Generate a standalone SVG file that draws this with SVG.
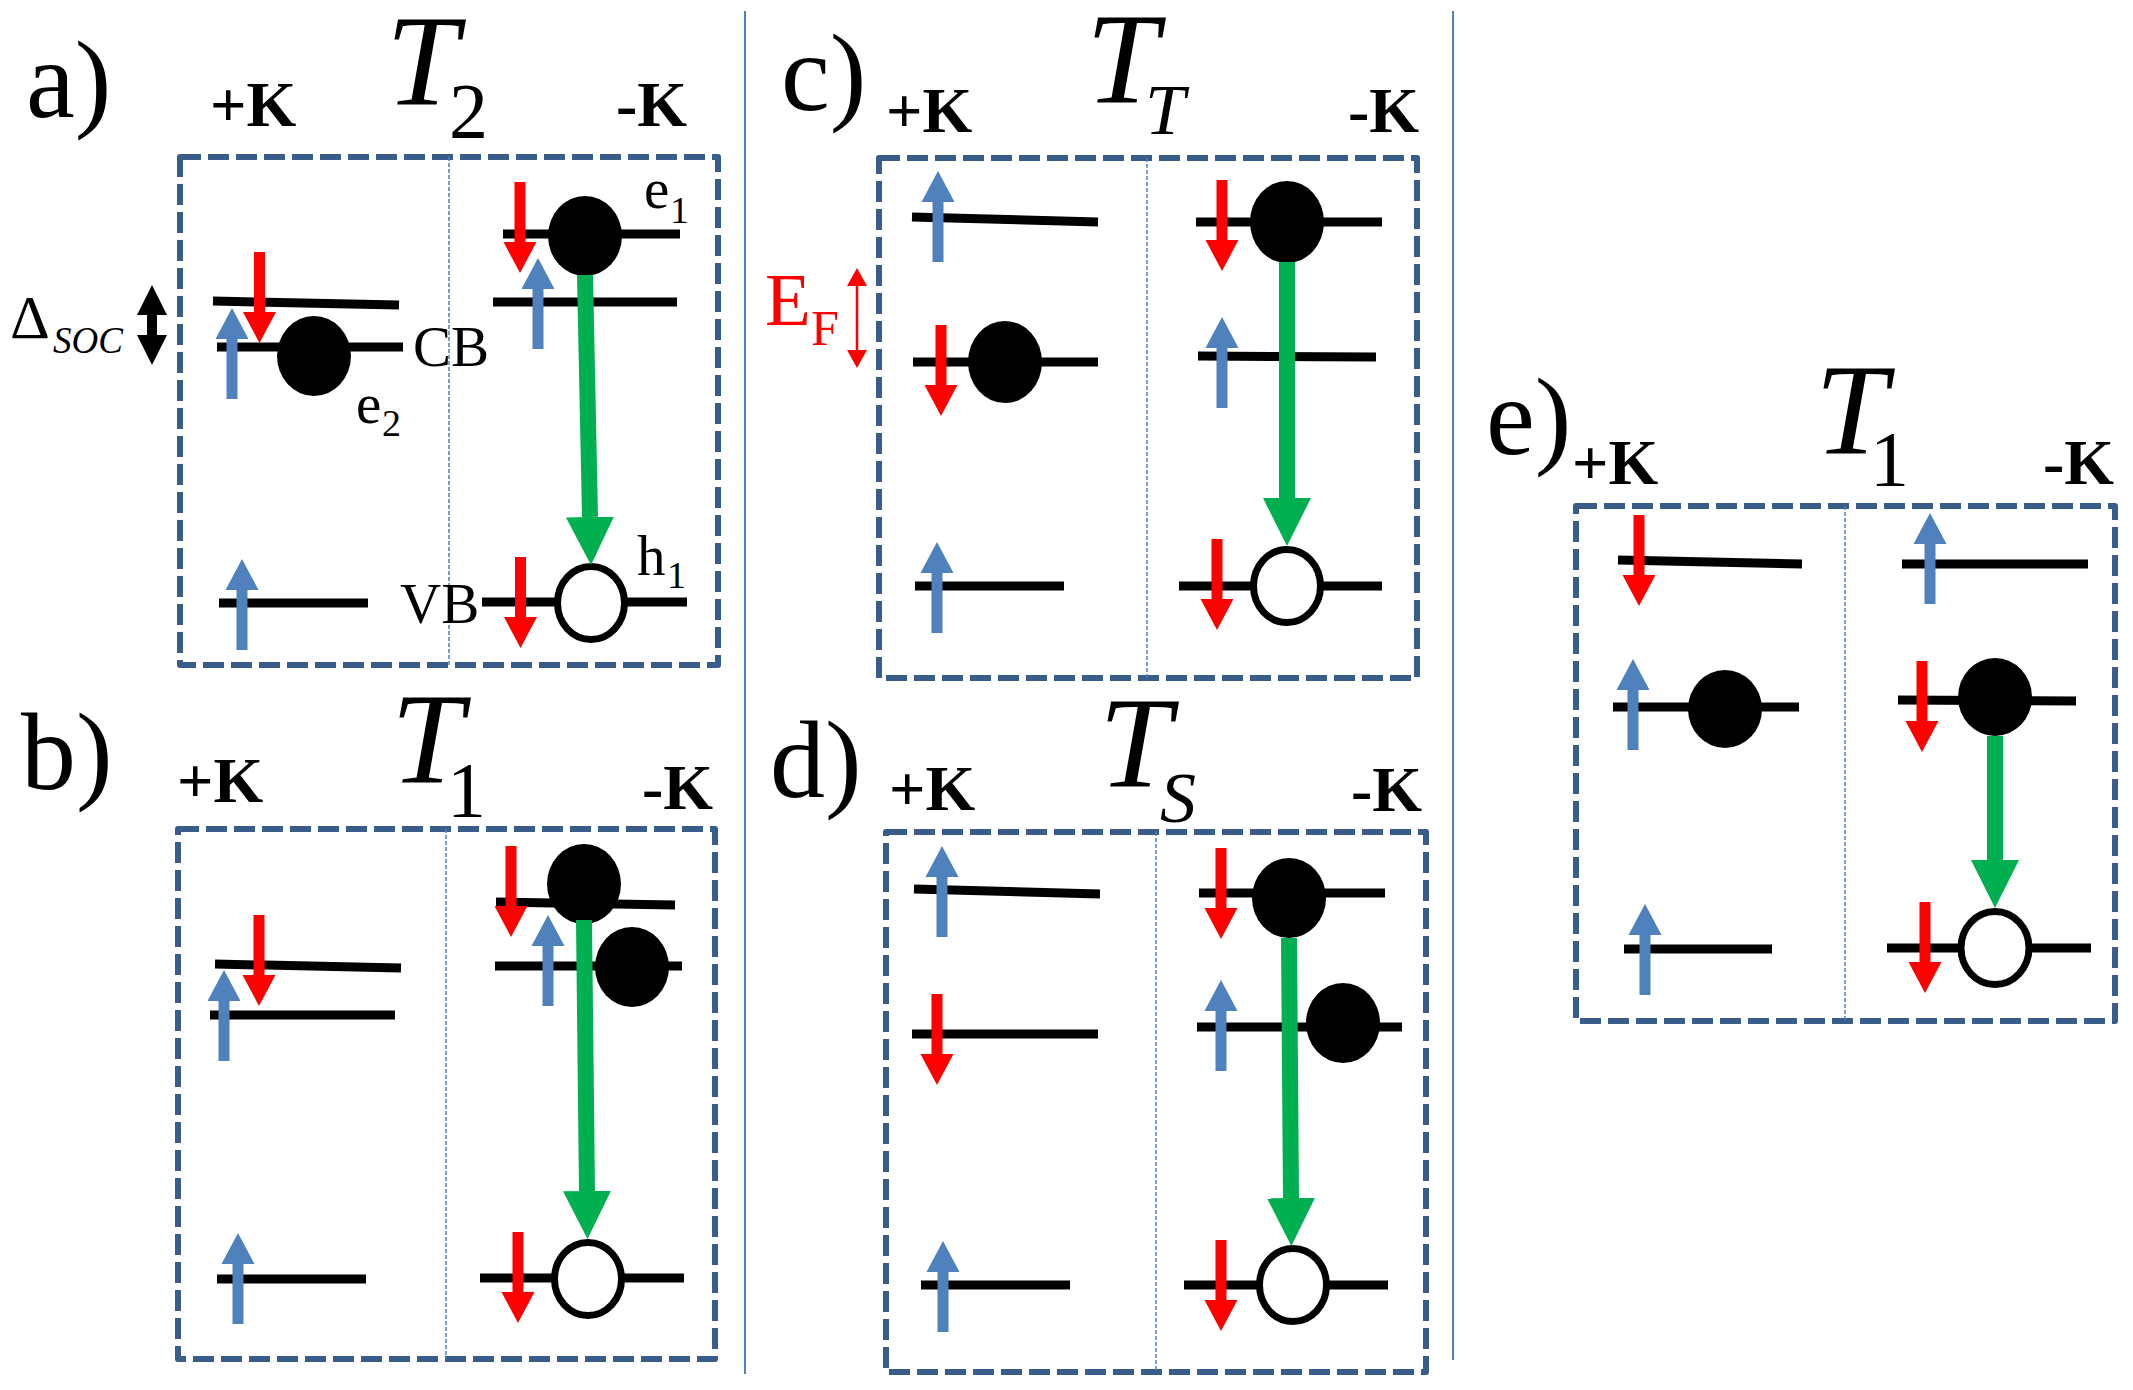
<svg xmlns="http://www.w3.org/2000/svg" xmlns:xlink="http://www.w3.org/1999/xlink" width="2133" height="1390" viewBox="0 0 2133 1390">
<style>
.bg{fill:#fff}
.box{fill:none;stroke:#385d8a;stroke-width:6;stroke-dasharray:21 7;stroke-linejoin:round}
.div{fill:none;stroke:#4f81bd;stroke-width:1.5;stroke-dasharray:4 2}
.sep{stroke:#4f81bd;stroke-width:2}
.lvl{stroke:#000;stroke-width:9;stroke-linecap:butt}
.el{fill:#000}
.ho{fill:#fff;stroke:#000;stroke-width:7}
.grn{stroke:#00b050;stroke-width:16;fill:none}
.t{font-family:"Liberation Serif","Times New Roman",serif;fill:#000}
.lab{font-size:110px}
.k{font-size:64px;font-weight:bold}
.ti{font-size:130px;font-style:italic}
.sub{font-size:78px}
.subi{font-size:72px;font-style:italic}
.sm{font-size:57px}
.sm2{font-size:38px}
.red{fill:#ff0000}
</style>
<defs>
<path id="up" d="M0,0 L16.5,31 L5.5,31 L5.5,91 L-5.5,91 L-5.5,31 L-16.5,31 Z" fill="#4f81bd"/>
<path id="dn" d="M0,0 L-16.5,-31 L-5.5,-31 L-5.5,-91 L5.5,-91 L5.5,-31 L16.5,-31 Z" fill="#ff0000"/>
<marker id="gh" viewBox="0 0 10 10" refX="0" refY="5" markerWidth="3" markerHeight="3" orient="auto" markerUnits="strokeWidth">
<path d="M0,0 L10,5 L0,10 Z" fill="#00b050"/>
</marker>
</defs>
<rect class="bg" x="0" y="0" width="2133" height="1390"/>
<g id="separators">
<line class="sep" x1="745" y1="11" x2="745" y2="1374"/>
<line class="sep" x1="1453" y1="11" x2="1453" y2="1360"/>
</g>

<g id="panel-a">
<text class="t lab" x="26" y="117">a)</text>
<text class="t k" x="210" y="126">+K</text>
<text class="t k" x="616" y="126">-K</text>
<text class="t ti" x="386" y="104">T</text>
<text class="t sub" x="449" y="137">2</text>
<rect class="box" x="180" y="157" width="538" height="508"/>
<line class="div" x1="449" y1="157" x2="449" y2="665"/>
<text class="t" x="10" y="338" font-size="62">Δ</text>
<text class="t" x="53" y="353" font-size="37" font-style="italic">SOC</text>
<path d="M152,285 L167,315 L157,315 L157,335 L167,335 L152,365 L137,335 L147,335 L147,315 L137,315 Z" fill="#000"/>
<line class="lvl" x1="213" y1="301" x2="399" y2="305"/>
<line class="lvl" x1="217" y1="347" x2="403" y2="347"/>
<line class="lvl" x1="219" y1="603" x2="368" y2="603"/>
<ellipse class="el" cx="314" cy="356" rx="37" ry="40"/>
<use xlink:href="#up" x="232" y="308"/>
<use xlink:href="#dn" x="259.5" y="343"/>
<use xlink:href="#up" x="242" y="559"/>
<text class="t sm" x="413" y="366">CB</text>
<text class="t sm" x="356" y="423">e</text>
<text class="t sm2" x="382" y="436">2</text>
<line class="lvl" x1="503" y1="234" x2="680" y2="234"/>
<line class="lvl" x1="493" y1="302" x2="677" y2="302"/>
<line class="lvl" x1="482" y1="602" x2="687" y2="602"/>
<ellipse class="el" cx="585" cy="236" rx="37" ry="40"/>
<ellipse class="ho" cx="591" cy="603" rx="33.5" ry="36.5"/>
<use xlink:href="#dn" x="520" y="273"/>
<use xlink:href="#up" x="538" y="258"/>
<use xlink:href="#dn" x="520.5" y="648"/>
<text class="t sm" x="644" y="208">e</text>
<text class="t sm2" x="670" y="223">1</text>
<text class="t sm" x="400" y="623">VB</text>
<text class="t sm" x="637" y="575">h</text>
<text class="t sm2" x="667" y="588">1</text>
</g>

<g id="panel-b">
<text class="t lab" x="21" y="789">b)</text>
<text class="t k" x="177" y="802">+K</text>
<text class="t k" x="642" y="809">-K</text>
<text class="t ti" x="391" y="782">T</text>
<text class="t sub" x="447" y="816">1</text>
<rect class="box" x="178" y="829" width="537" height="530"/>
<line class="div" x1="446" y1="829" x2="446" y2="1359"/>
<line class="lvl" x1="215" y1="964" x2="401" y2="968"/>
<line class="lvl" x1="210" y1="1015" x2="395" y2="1015"/>
<line class="lvl" x1="217" y1="1279" x2="366" y2="1279"/>
<use xlink:href="#dn" x="259" y="1006"/>
<use xlink:href="#up" x="224" y="970"/>
<use xlink:href="#up" x="238" y="1233"/>
<line class="lvl" x1="496" y1="902" x2="675" y2="905"/>
<line class="lvl" x1="495" y1="966" x2="682" y2="966"/>
<line class="lvl" x1="480" y1="1278" x2="684" y2="1278"/>
<ellipse class="el" cx="584" cy="884" rx="37" ry="40"/>
<ellipse class="el" cx="632" cy="967" rx="37" ry="40"/>
<ellipse class="ho" cx="588" cy="1279" rx="33.5" ry="36.5"/>
<use xlink:href="#dn" x="511" y="937"/>
<use xlink:href="#up" x="548" y="915"/>
<use xlink:href="#dn" x="518" y="1323"/>
</g>

<g id="panel-c">
<text class="t lab" x="781" y="110">c)</text>
<text class="t k" x="886" y="132">+K</text>
<text class="t k" x="1348" y="132">-K</text>
<text class="t ti" x="1086" y="102">T</text>
<text class="t subi" x="1145" y="134">T</text>
<rect class="box" x="879" y="158" width="538" height="520"/>
<line class="div" x1="1147" y1="158" x2="1147" y2="678"/>
<text class="t red" x="765" y="325" font-size="75">E</text>
<text class="t red" x="811" y="345" font-size="50">F</text>
<line x1="857" y1="284" x2="857" y2="352" stroke="#ff0000" stroke-width="2.5"/>
<path d="M857,268 L867,286 L847,286 Z M857,368 L867,350 L847,350 Z" fill="#ff0000"/>
<line class="lvl" x1="912" y1="217" x2="1098" y2="222"/>
<line class="lvl" x1="913" y1="362" x2="1098" y2="362"/>
<line class="lvl" x1="915" y1="586" x2="1064" y2="586"/>
<ellipse class="el" cx="1005" cy="362" rx="37" ry="41"/>
<use xlink:href="#up" x="938" y="171"/>
<use xlink:href="#dn" x="941" y="416"/>
<use xlink:href="#up" x="937" y="542"/>
<line class="lvl" x1="1196" y1="222" x2="1382" y2="222"/>
<line class="lvl" x1="1198" y1="356" x2="1376" y2="357"/>
<line class="lvl" x1="1179" y1="586" x2="1382" y2="586"/>
<ellipse class="el" cx="1287" cy="222" rx="37" ry="41"/>
<ellipse class="ho" cx="1287" cy="586" rx="33.5" ry="36.5"/>
<use xlink:href="#dn" x="1222" y="271"/>
<use xlink:href="#up" x="1222" y="317"/>
<use xlink:href="#dn" x="1217" y="630"/>
</g>

<g id="panel-d">
<text class="t lab" x="770" y="797">d)</text>
<text class="t k" x="889" y="810">+K</text>
<text class="t k" x="1351" y="811">-K</text>
<text class="t ti" x="1099" y="786">T</text>
<text class="t subi" x="1160" y="822">S</text>
<rect class="box" x="886" y="832" width="540" height="540"/>
<line class="div" x1="1156" y1="832" x2="1156" y2="1372"/>
<line class="lvl" x1="914" y1="889" x2="1100" y2="894"/>
<line class="lvl" x1="912" y1="1034" x2="1098" y2="1034"/>
<line class="lvl" x1="921" y1="1285" x2="1070" y2="1285"/>
<use xlink:href="#up" x="942" y="846"/>
<use xlink:href="#dn" x="937" y="1085"/>
<use xlink:href="#up" x="943" y="1241"/>
<line class="lvl" x1="1199" y1="893" x2="1385" y2="893"/>
<line class="lvl" x1="1197" y1="1027" x2="1402" y2="1027"/>
<line class="lvl" x1="1184" y1="1285" x2="1388" y2="1285"/>
<ellipse class="el" cx="1289" cy="898" rx="37" ry="40"/>
<ellipse class="el" cx="1343" cy="1023" rx="37" ry="40"/>
<ellipse class="ho" cx="1293" cy="1285" rx="33.5" ry="36.5"/>
<use xlink:href="#dn" x="1221" y="939"/>
<use xlink:href="#up" x="1221" y="980"/>
<use xlink:href="#dn" x="1221" y="1331"/>
</g>

<g id="panel-e">
<text class="t lab" x="1486" y="454">e)</text>
<text class="t k" x="1572" y="484">+K</text>
<text class="t k" x="2043" y="484">-K</text>
<text class="t ti" x="1815" y="453">T</text>
<text class="t sub" x="1870" y="485">1</text>
<rect class="box" x="1576" y="506" width="539" height="515"/>
<line class="div" x1="1845" y1="506" x2="1845" y2="1021"/>
<line class="lvl" x1="1618" y1="560" x2="1802" y2="564"/>
<line class="lvl" x1="1613" y1="707" x2="1799" y2="707"/>
<line class="lvl" x1="1624" y1="949" x2="1772" y2="949"/>
<ellipse class="el" cx="1725" cy="709" rx="37" ry="39"/>
<use xlink:href="#dn" x="1639" y="606"/>
<use xlink:href="#up" x="1633" y="659"/>
<use xlink:href="#up" x="1645" y="904"/>
<line class="lvl" x1="1902" y1="564" x2="2088" y2="564"/>
<line class="lvl" x1="1898" y1="700" x2="2076" y2="701"/>
<line class="lvl" x1="1887" y1="948" x2="2091" y2="948"/>
<ellipse class="el" cx="1995" cy="697" rx="37" ry="39"/>
<ellipse class="ho" cx="1995" cy="948" rx="34" ry="36.5"/>
<use xlink:href="#up" x="1930" y="513"/>
<use xlink:href="#dn" x="1922" y="752"/>
<use xlink:href="#dn" x="1925" y="993"/>
</g>

<g id="connectors">
<line class="grn" x1="585" y1="275" x2="590" y2="517" marker-end="url(#gh)"/>
<line class="grn" x1="584" y1="920" x2="587" y2="1191" marker-end="url(#gh)"/>
<line class="grn" x1="1287" y1="262" x2="1287" y2="498" marker-end="url(#gh)"/>
<line class="grn" x1="1289" y1="938" x2="1291" y2="1198" marker-end="url(#gh)"/>
<line class="grn" x1="1995" y1="736" x2="1995" y2="860" marker-end="url(#gh)"/>
</g>
</svg>
